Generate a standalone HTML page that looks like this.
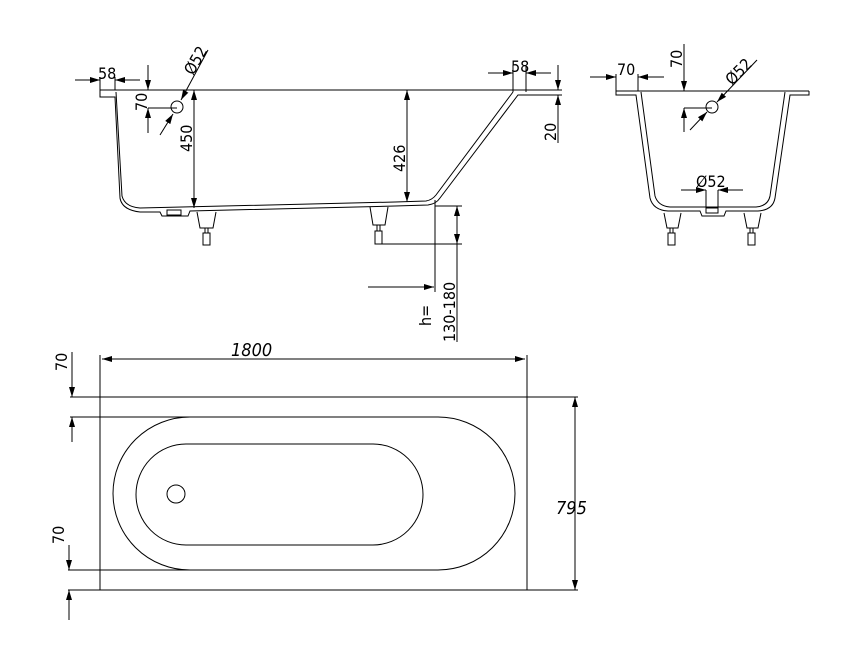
<!DOCTYPE html>
<html><head><meta charset="utf-8"><style>
html,body{margin:0;padding:0;background:#fff;}
svg{display:block;font-family:"DejaVu Sans Condensed","Liberation Sans",sans-serif;}
.l{stroke:#000;stroke-width:1;fill:none;}
.t{font-size:16px;fill:#000;}
</style></head><body>
<svg width="854" height="662" viewBox="0 0 854 662" xmlns="http://www.w3.org/2000/svg">
<defs>
<marker id="a" viewBox="0 0 10 6" refX="10" refY="3" markerWidth="10" markerHeight="6" orient="auto-start-reverse" markerUnits="userSpaceOnUse"><path d="M0,0 L10,3 L0,6 z" fill="#000"/></marker>
</defs>

<!-- SIDE VIEW -->
<g class="l">
<line x1="100" y1="90" x2="562" y2="90"/>
<line x1="525" y1="95" x2="562" y2="95"/>
<path d="M100,90 L100,97 L115,97 L120,198 Q122,210 140,212 L160,212 L162,216 L188,216 L190,211 L395,206 L428,205 Q436,204 440,198 L518,95 L525,95"/>
<path d="M115,90 L112,90 M116,92 L122,196 Q125,207 140,208 L395,202 L426,201 Q432,200 436,195 L513,92"/>
<rect x="167" y="210" width="14" height="5"/>
<path d="M197,212 L200,228 L213,228 L216,212"/><rect x="203" y="233" width="7" height="12"/><line x1="205" y1="228" x2="205" y2="233"/><line x1="208" y1="228" x2="208" y2="233"/>
<path d="M370,207 L373,225 L385,225 L388,207"/><rect x="375" y="231" width="7" height="13"/><line x1="377" y1="225" x2="377" y2="231"/><line x1="380" y1="225" x2="380" y2="231"/>
<line x1="100" y1="77" x2="100" y2="90"/><line x1="115" y1="77" x2="115" y2="90"/>
<line x1="75" y1="80" x2="100" y2="80" marker-end="url(#a)"/><line x1="140" y1="80" x2="115" y2="80" marker-end="url(#a)"/>
<line x1="148" y1="65" x2="148" y2="90" marker-end="url(#a)"/><line x1="148" y1="133" x2="148" y2="108" marker-end="url(#a)"/>
<line x1="148" y1="108" x2="177" y2="108"/>
<circle cx="177" cy="107" r="6"/>
<line x1="208" y1="50" x2="181" y2="100" marker-end="url(#a)"/><line x1="160" y1="135" x2="173" y2="114" marker-end="url(#a)"/>
<line x1="194" y1="90" x2="194" y2="208" marker-start="url(#a)" marker-end="url(#a)"/>
<line x1="407" y1="90" x2="407" y2="202" marker-start="url(#a)" marker-end="url(#a)"/>
<line x1="513" y1="65" x2="513" y2="92"/><line x1="526" y1="65" x2="526" y2="92"/>
<line x1="488" y1="73" x2="513" y2="73" marker-end="url(#a)"/><line x1="551" y1="73" x2="526" y2="73" marker-end="url(#a)"/>
<line x1="558" y1="65" x2="558" y2="90" marker-end="url(#a)"/><line x1="558" y1="143" x2="558" y2="95" marker-end="url(#a)"/>
<line x1="435" y1="200" x2="435" y2="292"/>
<line x1="435" y1="206" x2="462" y2="206"/><line x1="375" y1="244" x2="462" y2="244"/>
<line x1="457" y1="206" x2="457" y2="342"/>
<line x1="457" y1="225" x2="457" y2="206" marker-end="url(#a)"/><line x1="457" y1="225" x2="457" y2="244" marker-end="url(#a)"/>
<line x1="368" y1="287" x2="434" y2="287" marker-end="url(#a)"/>
</g>
<text class="t" x="98" y="79">58</text>
<text class="t" x="511" y="72">58</text>
<text class="t" transform="translate(147,111) rotate(-90)">70</text>
<text class="t" transform="translate(192,152) rotate(-90)">450</text>
<text class="t" transform="translate(405,172) rotate(-90)">426</text>
<text class="t" transform="translate(556,141) rotate(-90)">20</text>
<text class="t" transform="translate(193,76) rotate(-60)">Ø52</text>
<text class="t" transform="translate(431,326) rotate(-90)">h=</text>
<text class="t" transform="translate(455,342) rotate(-90)">130-180</text>

<!-- END VIEW -->
<g class="l">
<line x1="616" y1="91" x2="809" y2="91"/>
<path d="M616,91 L616,95 L636,95 L650,198 Q653,210 668,211 L700,211 L702,216 L724,216 L726,211 L758,211 Q773,210 775,198 L790,95 L809,95 L809,91"/>
<path d="M641,92 L655,196 Q658,206 670,207 L756,207 Q768,206 770,196 L785,92"/>
<rect x="706" y="208" width="12" height="5"/>
<line x1="706" y1="190" x2="706" y2="208"/><line x1="718" y1="190" x2="718" y2="208"/>
<path d="M664,213 L667,228 L678,228 L681,213"/><rect x="668" y="233" width="7" height="12"/><line x1="670" y1="228" x2="670" y2="233"/><line x1="673" y1="228" x2="673" y2="233"/>
<path d="M744,213 L747,228 L758,228 L761,213"/><rect x="748" y="233" width="7" height="12"/><line x1="750" y1="228" x2="750" y2="233"/><line x1="753" y1="228" x2="753" y2="233"/>
<line x1="616" y1="74" x2="616" y2="91"/><line x1="638" y1="74" x2="638" y2="91"/>
<line x1="590" y1="77" x2="616" y2="77" marker-end="url(#a)"/><line x1="664" y1="77" x2="638" y2="77" marker-end="url(#a)"/>
<line x1="684" y1="44" x2="684" y2="91" marker-end="url(#a)"/><line x1="684" y1="132" x2="684" y2="108" marker-end="url(#a)"/>
<line x1="684" y1="108" x2="712" y2="108"/>
<circle cx="712" cy="107" r="6"/>
<line x1="757" y1="60" x2="717" y2="102" marker-end="url(#a)"/><line x1="690" y1="130" x2="707" y2="112" marker-end="url(#a)"/>
<line x1="681" y1="190" x2="706" y2="190" marker-end="url(#a)"/><line x1="743" y1="190" x2="718" y2="190" marker-end="url(#a)"/>
</g>
<text class="t" x="617" y="75">70</text>
<text class="t" transform="translate(682,68) rotate(-90)">70</text>
<text class="t" transform="translate(732,86) rotate(-45)">Ø52</text>
<text class="t" x="696" y="187">Ø52</text>

<!-- TOP VIEW -->
<g class="l">
<line x1="100" y1="355" x2="100" y2="590"/><line x1="527" y1="355" x2="527" y2="590"/>
<line x1="102" y1="359" x2="525" y2="359" marker-start="url(#a)" marker-end="url(#a)"/>
<line x1="70" y1="397" x2="578" y2="397"/>
<line x1="70" y1="417" x2="190" y2="417"/>
<line x1="68" y1="570" x2="190" y2="570"/>
<line x1="68" y1="590" x2="578" y2="590"/>
<path d="M190,417 L438,417 A77,76.5 0 0 1 438,570 L190,570 A77,76.5 0 0 1 190,417 Z"/>
<path d="M186,444 L373,444 A50,50.5 0 0 1 373,545 L186,545 A50,50.5 0 0 1 186,444 Z"/>
<circle cx="176" cy="494" r="9"/>
<line x1="72" y1="352" x2="72" y2="397" marker-end="url(#a)"/><line x1="72" y1="442" x2="72" y2="417" marker-end="url(#a)"/>
<line x1="69" y1="545" x2="69" y2="570" marker-end="url(#a)"/><line x1="69" y1="620" x2="69" y2="590" marker-end="url(#a)"/>
<line x1="575" y1="397" x2="575" y2="590" marker-start="url(#a)" marker-end="url(#a)"/>
</g>
<text class="t" style="font-style:italic;font-size:18px" x="231" y="356">1800</text>
<text class="t" style="font-style:italic;font-size:18px" x="556" y="514">795</text>
<text class="t" transform="translate(67,371) rotate(-90)">70</text>
<text class="t" transform="translate(64,544) rotate(-90)">70</text>
</svg>
</body></html>
